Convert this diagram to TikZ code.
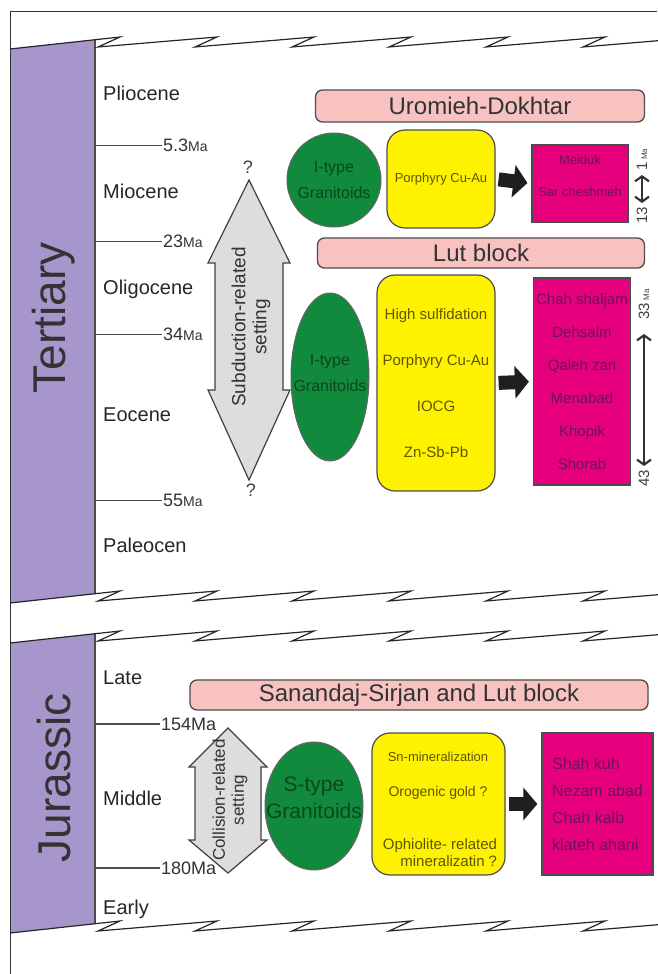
\documentclass[tikz,border=0pt]{standalone}
\usepackage{fontspec}
\setmainfont{Liberation Sans}
\usetikzlibrary{arrows.meta, shapes.geometric}

\definecolor{periodpurple}{RGB}{166,150,204}
\definecolor{titlepink}{RGB}{248,194,192}
\definecolor{granitegreen}{RGB}{18,138,62}
\definecolor{oreyellow}{RGB}{255,242,0}
\definecolor{depmagenta}{RGB}{230,0,126}
\definecolor{settinggray}{RGB}{221,221,221}
\definecolor{oretext}{RGB}{95,85,0}
\definecolor{deptext}{RGB}{105,20,85}
\definecolor{granitetext}{RGB}{10,70,30}

\newcommand{\fs}[2]{\fontsize{#1}{#2}\selectfont}
% zigzag break of the time column at height #1
\newcommand{\timebreak}[1]{%
  \draw[breakline] (10,{#1+7}) -- (120,{#1-5})
    \foreach \t in {120,217,314,411,508,605} { -- ({\t-22},{#1+5}) -- ({\t+97},{#1-5}) };%
}

\begin{document}
\begin{tikzpicture}[x=1pt, y=-1pt,
    breakline/.style={line width=1.2pt, draw=black!85, line join=miter},
    period/.style={rotate=90, font=\fs{46}{50}, text=black!80},
    epoch/.style={anchor=west, font=\fs{20}{24}, text=black!85, inner sep=0pt},
    agetick/.style={anchor=west, font=\fs{18}{20}, text=black!80, inner sep=1pt},
    tickline/.style={line width=1pt, draw=black!70},
    titlebox/.style={draw=black!70, line width=1.3pt, fill=titlepink, rounded corners=7pt, font=\fs{24}{26}, text=black!80, inner sep=0pt},
    granite/.style={draw=black!60, line width=1pt, fill=granitegreen, inner sep=0pt},
    granitelabel/.style={font=\fs{16}{26}, text=granitetext, align=center, inner sep=0pt},
    orebox/.style={draw=black!70, line width=1.2pt, fill=oreyellow, rounded corners=18pt, text=oretext, align=center, inner sep=0pt},
    oretxt/.style={text=oretext, inner sep=0pt},
    depbox/.style={draw=black!70, line width=1.2pt, fill=depmagenta, text=deptext, inner sep=0pt},
    deptxt/.style={text=deptext, inner sep=0pt, align=center},
    blockarrow/.style={line width=14pt, draw=black!88, -{Triangle[length=14pt, width=32pt]}, shorten <=3pt, shorten >=4pt},
    agespan/.style={line width=1.1pt, draw=black!80, {Straight Barb[length=5pt, width=14pt, line width=2.2pt]}-{Straight Barb[length=5pt, width=14pt, line width=2.2pt]}},
    agelabel/.style={rotate=90, font=\fs{15}{15}, text=black!75, inner sep=0pt},
    settingarrow/.style={draw=black!75, line width=1.2pt, fill=settinggray},
    settinglabel/.style={rotate=90, align=center, text=black!80, inner sep=0pt},
    qmark/.style={font=\fs{18}{18}, text=black!75, inner sep=0pt},
]
    \useasboundingbox (0,0) rectangle (657,974);

    % Time column
    \fill[periodpurple] (10,49) -- (95,39.7) -- (95,593.7) -- (10,603) -- cycle;
    \fill[periodpurple] (10,643) -- (95,633.7) -- (95,923.7) -- (10,933) -- cycle;
    \draw[black!70, line width=1.2pt] (95,39.7) -- (95,593.7);
    \draw[black!70, line width=1.2pt] (95,633.7) -- (95,923.7);
    \draw[black!80, line width=1pt] (657,12) -- (10,12) -- (10,974);
    \timebreak{42}
    \timebreak{596}
    \timebreak{636}
    \timebreak{926}

    \node[period] (tertiary) at (54,318) {Tertiary};
    \node[period] (jurassic) at (54,778) {Jurassic};

    % Epochs
    \node[epoch] (pliocene) at (103,93) {Pliocene};
    \node[epoch] (miocene) at (103,191) {Miocene};
    \node[epoch] (oligocene) at (103,289) {Oligocene};
    \node[epoch] (eocene) at (103,415) {Eocene};
    \node[epoch] (paleocen) at (103,545) {Paleocen};
    \node[epoch] (late) at (103,678) {Late};
    \node[epoch] (middle) at (103,798) {Middle};
    \node[epoch] (early) at (103,909) {Early};

    \foreach \y/\age/\nm in {145/5.3/ma53, 241/23/ma23, 334/34/ma34, 500/55/ma55}{
        \node[agetick] (\nm) at (162,\y) {\age{\fs{14}{14}Ma}};
        \draw[tickline] (95,\y) -- (\nm.west);
    }
    \foreach \y/\age/\nm in {724/154/ma154, 868/180/ma180}{
        \node[agetick] (\nm) at (160,\y) {\age Ma};
        \draw[tickline, line width=1.5pt] (95,\y) -- (\nm.west);
    }

    % Subduction-related setting
    \draw[settingarrow] (249,180) -- (290,263) -- (283,263) -- (283,390) -- (290,390) -- (249,480)
        -- (208,390) -- (215,390) -- (215,263) -- (208,263) -- cycle;
    \node[settinglabel, font=\fs{19}{21}] (subduction) at (251,327) {Subduction-related\\setting};
    \node[qmark] (qtop) at (248,167) {?};
    \node[qmark] (qbot) at (251,490) {?};

    % Uromieh-Dokhtar
    \node[titlebox, minimum width=329pt, minimum height=32pt] (uromieh) at (480,106) {Uromieh-Dokhtar};
    \node[granite, circle, minimum size=94pt] (granU) at (334,180) {};
    \node[granitelabel] (granUtxt) at (granU) {I-type\\Granitoids};
    \node[orebox, minimum width=108pt, minimum height=98pt, font=\fs{13}{15}] (oreU) at (441,179) {Porphyry Cu-Au};
    \node[depbox, minimum width=96pt, minimum height=77pt] (depU) at (580,183.5) {};
    \node[deptxt, font=\fs{13}{32}] (depUtxt) at (580,176) {Meiduk\\Sar cheshmeh};
    \draw[blockarrow] (oreU.east) -- (depU.west);
    \coordinate (spanUtop) at (642,175);
    \coordinate (spanUbot) at (642,203);
    \draw[agespan] (spanUtop) -- (spanUbot);
    \node[agelabel, anchor=west] (ageU1) at (642,171) {1\,{\fs{8}{8}Ma}};
    \node[agelabel, anchor=east] (ageU13) at (642,207) {13};

    % Lut block
    \node[titlebox, minimum width=327pt, minimum height=30pt] (lut) at (481,253) {Lut block};
    \node[granite, ellipse, minimum width=78pt, minimum height=168pt] (granL) at (330,377) {};
    \node[granitelabel] (granLtxt) at (330,373) {I-type\\Granitoids};
    \node[orebox, minimum width=118pt, minimum height=216pt, font=\fs{15}{46}] (oreL) at (436,383)
        {High sulfidation\\Porphyry Cu-Au\\IOCG\\Zn-Sb-Pb};
    \node[depbox, minimum width=97pt, minimum height=207pt, font=\fs{15}{33}, align=center] (depL) at (582,381.5)
        {Chah shaljam\\Dehsalm\\Qaleh zari\\Menabad\\Khopik\\Shorab};
    \draw[blockarrow] (oreL.east) -- (depL.west);
    \coordinate (spanLtop) at (644,334);
    \coordinate (spanLbot) at (644,466);
    \draw[agespan] (spanLtop) -- (spanLbot);
    \node[agelabel, anchor=west] (ageL33) at (644,320) {33\,{\fs{8}{8}Ma}};
    \node[agelabel, anchor=east] (ageL43) at (644,470) {43};

    % Sanandaj-Sirjan and Lut block
    \node[titlebox, minimum width=458pt, minimum height=30pt] (sanandaj) at (419,695) {Sanandaj-Sirjan and Lut block};
    \draw[settingarrow] (228,728) -- (267,767) -- (261,767) -- (261,840) -- (267,840) -- (228,873)
        -- (189,840) -- (195,840) -- (195,767) -- (189,767) -- cycle;
    \node[settinglabel, font=\fs{17}{19}] (collision) at (230,800) {Collision-related\\setting};
    \node[granite, ellipse, minimum width=98pt, minimum height=128pt] (granS) at (314,806) {};
    \node[granitelabel, font=\fs{21}{27}] (granStxt) at (314,798) {S-type\\Granitoids};
    \node[orebox, minimum width=133pt, minimum height=142pt] (oreS) at (438.5,804) {};
    \node[oretxt, font=\fs{13}{13}] (snmin) at (438,757) {Sn-mineralization};
    \node[oretxt, font=\fs{14}{14}] (orogold) at (438,793) {Orogenic gold ?};
    \node[oretxt, font=\fs{15}{17}, align=right] (ophio) at (440,853) {Ophiolite- related\\mineralizatin ?};
    \node[depbox, minimum width=111pt, minimum height=142pt, font=\fs{16}{27}, align=left] (depS) at (597.5,804)
        {Shah kuh\\Nezam abad\\Chah kalb\\klateh ahani};
    \draw[blockarrow] (oreS.east) -- (depS.west);
\end{tikzpicture}
\end{document}
